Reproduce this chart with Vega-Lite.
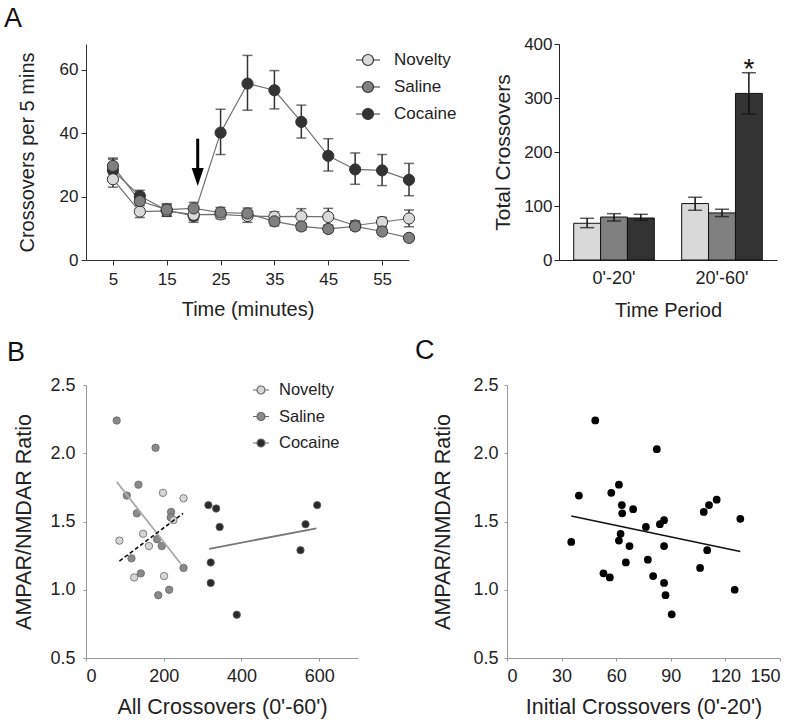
{
  "$schema": "https://vega.github.io/schema/vega-lite/v6.json",
  "padding": {"left": 4, "top": 5, "right": 5, "bottom": 5},
  "config": {
    "view": {"stroke": null},
    "font": "Liberation Sans",
    "axis": {"grid": false, "labelFont": "Liberation Sans", "titleFont": "Liberation Sans", "titleFontWeight": "normal", "labelColor": "#222", "titleColor": "#222"},
    "legend": {"labelFont": "Liberation Sans", "padding": 0}
  },
  "datasets": {
    "timecourse": [
      {"group": "Cocaine", "t": 5, "m": 28.3, "lo": 26.3, "hi": 31.8},
      {"group": "Cocaine", "t": 10, "m": 20.2, "lo": 18.5, "hi": 22.0},
      {"group": "Cocaine", "t": 15, "m": 15.7, "lo": 13.8, "hi": 17.5},
      {"group": "Cocaine", "t": 20, "m": 13.9, "lo": 11.9, "hi": 15.8},
      {"group": "Cocaine", "t": 25, "m": 40.2, "lo": 33.3, "hi": 47.6},
      {"group": "Cocaine", "t": 30, "m": 55.7, "lo": 47.3, "hi": 64.6},
      {"group": "Cocaine", "t": 35, "m": 53.6, "lo": 47.7, "hi": 59.8},
      {"group": "Cocaine", "t": 40, "m": 43.6, "lo": 38.5, "hi": 48.9},
      {"group": "Cocaine", "t": 45, "m": 32.9, "lo": 28.1, "hi": 38.3},
      {"group": "Cocaine", "t": 50, "m": 28.6, "lo": 23.9, "hi": 33.8},
      {"group": "Cocaine", "t": 55, "m": 28.3, "lo": 23.5, "hi": 33.3},
      {"group": "Cocaine", "t": 60, "m": 25.3, "lo": 20.3, "hi": 30.5},
      {"group": "Novelty", "t": 5, "m": 25.5, "lo": 23.0, "hi": 28.0},
      {"group": "Novelty", "t": 10, "m": 15.3, "lo": 13.4, "hi": 17.2},
      {"group": "Novelty", "t": 15, "m": 15.5, "lo": 13.8, "hi": 17.2},
      {"group": "Novelty", "t": 20, "m": 14.3, "lo": 12.5, "hi": 16.1},
      {"group": "Novelty", "t": 25, "m": 14.4, "lo": 13.0, "hi": 15.8},
      {"group": "Novelty", "t": 30, "m": 13.9, "lo": 11.9, "hi": 15.6},
      {"group": "Novelty", "t": 35, "m": 13.7, "lo": 12.2, "hi": 15.2},
      {"group": "Novelty", "t": 40, "m": 13.8, "lo": 11.5, "hi": 16.2},
      {"group": "Novelty", "t": 45, "m": 13.6, "lo": 11.0, "hi": 16.3},
      {"group": "Novelty", "t": 50, "m": 10.9, "lo": 9.6, "hi": 12.4},
      {"group": "Novelty", "t": 55, "m": 12.0, "lo": 10.5, "hi": 13.5},
      {"group": "Novelty", "t": 60, "m": 13.1, "lo": 10.5, "hi": 15.8},
      {"group": "Saline", "t": 5, "m": 29.7, "lo": 27.2, "hi": 32.2},
      {"group": "Saline", "t": 10, "m": 18.6, "lo": 16.2, "hi": 21.0},
      {"group": "Saline", "t": 15, "m": 15.9, "lo": 14.0, "hi": 17.8},
      {"group": "Saline", "t": 20, "m": 16.3, "lo": 14.2, "hi": 18.2},
      {"group": "Saline", "t": 25, "m": 15.0, "lo": 13.4, "hi": 16.6},
      {"group": "Saline", "t": 30, "m": 14.7, "lo": 13.0, "hi": 16.4},
      {"group": "Saline", "t": 35, "m": 12.2, "lo": 10.8, "hi": 13.7},
      {"group": "Saline", "t": 40, "m": 10.6, "lo": 9.4, "hi": 11.8},
      {"group": "Saline", "t": 45, "m": 9.8, "lo": 8.7, "hi": 10.9},
      {"group": "Saline", "t": 50, "m": 10.6, "lo": 9.5, "hi": 12.0},
      {"group": "Saline", "t": 55, "m": 9.0, "lo": 8.0, "hi": 10.0},
      {"group": "Saline", "t": 60, "m": 7.0, "lo": 6.0, "hi": 8.0}
    ],
    "arrow": [{"t": 20.75, "top": 38.3, "bot": 27.5, "head": 26.2}],
    "totals": [
      {"period": "0'-20'", "group": "Novelty", "v": 68, "lo": 59.9, "hi": 77.2, "sig": ""},
      {"period": "0'-20'", "group": "Saline", "v": 79.6, "lo": 72.2, "hi": 85.8, "sig": ""},
      {"period": "0'-20'", "group": "Cocaine", "v": 77.8, "lo": 73.5, "hi": 84.6, "sig": ""},
      {"period": "20'-60'", "group": "Novelty", "v": 104.5, "lo": 92.1, "hi": 116.2, "sig": ""},
      {"period": "20'-60'", "group": "Saline", "v": 87.2, "lo": 80.4, "hi": 94, "sig": ""},
      {"period": "20'-60'", "group": "Cocaine", "v": 308.5, "lo": 270.2, "hi": 346.8, "sig": "*"}
    ],
    "scatterB": [
      {"group": "Saline", "x": 79, "r": 2.24},
      {"group": "Saline", "x": 179, "r": 2.04},
      {"group": "Saline", "x": 135, "r": 1.77},
      {"group": "Saline", "x": 105, "r": 1.69},
      {"group": "Saline", "x": 131, "r": 1.56},
      {"group": "Saline", "x": 219, "r": 1.57},
      {"group": "Saline", "x": 218, "r": 1.53},
      {"group": "Saline", "x": 183, "r": 1.37},
      {"group": "Saline", "x": 195, "r": 1.32},
      {"group": "Saline", "x": 117, "r": 1.23},
      {"group": "Saline", "x": 141, "r": 1.12},
      {"group": "Saline", "x": 251, "r": 1.16},
      {"group": "Saline", "x": 214, "r": 1.0},
      {"group": "Saline", "x": 186, "r": 0.96},
      {"group": "Novelty", "x": 86, "r": 1.36},
      {"group": "Novelty", "x": 147, "r": 1.41},
      {"group": "Novelty", "x": 162, "r": 1.32},
      {"group": "Novelty", "x": 198, "r": 1.71},
      {"group": "Novelty", "x": 251, "r": 1.67},
      {"group": "Novelty", "x": 225, "r": 1.51},
      {"group": "Novelty", "x": 124, "r": 1.09},
      {"group": "Novelty", "x": 201, "r": 1.1},
      {"group": "Cocaine", "x": 315, "r": 1.62},
      {"group": "Cocaine", "x": 335, "r": 1.595},
      {"group": "Cocaine", "x": 344, "r": 1.46},
      {"group": "Cocaine", "x": 321, "r": 1.2},
      {"group": "Cocaine", "x": 321, "r": 1.05},
      {"group": "Cocaine", "x": 388, "r": 0.817},
      {"group": "Cocaine", "x": 552, "r": 1.29},
      {"group": "Cocaine", "x": 565, "r": 1.48},
      {"group": "Cocaine", "x": 595, "r": 1.62}
    ],
    "fitB": [
      {"group": "Novelty", "x": 86, "r": 1.21},
      {"group": "Novelty", "x": 250, "r": 1.56},
      {"group": "Saline", "x": 79, "r": 1.79},
      {"group": "Saline", "x": 244, "r": 1.19},
      {"group": "Cocaine", "x": 317, "r": 1.30},
      {"group": "Cocaine", "x": 593, "r": 1.45}
    ],
    "scatterC": [
      {"x": 48.5, "r": 2.24}, {"x": 82.3, "r": 2.03}, {"x": 39.5, "r": 1.69}, {"x": 57.3, "r": 1.71},
      {"x": 61.5, "r": 1.77}, {"x": 63.1, "r": 1.62}, {"x": 63.3, "r": 1.56}, {"x": 69.3, "r": 1.59},
      {"x": 35.3, "r": 1.35}, {"x": 62.4, "r": 1.41}, {"x": 61.5, "r": 1.36}, {"x": 76.3, "r": 1.46},
      {"x": 84.0, "r": 1.48}, {"x": 86.3, "r": 1.51}, {"x": 67.3, "r": 1.32}, {"x": 86.3, "r": 1.32},
      {"x": 77.4, "r": 1.22}, {"x": 65.3, "r": 1.2}, {"x": 53.0, "r": 1.12}, {"x": 56.5, "r": 1.09},
      {"x": 80.3, "r": 1.1}, {"x": 86.3, "r": 1.05}, {"x": 87.1, "r": 0.96}, {"x": 90.5, "r": 0.82},
      {"x": 108.1, "r": 1.57}, {"x": 111.0, "r": 1.62}, {"x": 115.2, "r": 1.66}, {"x": 128.2, "r": 1.52},
      {"x": 110.0, "r": 1.29}, {"x": 106.1, "r": 1.16}, {"x": 125.1, "r": 1.0}
    ],
    "fitC": [{"x": 35.3, "r": 1.54}, {"x": 128.2, "r": 1.28}]
  },
  "resolve": {"scale": {"fill": "independent"}, "legend": {"fill": "independent"}},
  "spacing": 17,
  "vconcat": [
    {
      "bounds": "flush",
      "spacing": 150,
      "resolve": {"scale": {"fill": "independent"}, "legend": {"fill": "independent"}},
      "hconcat": [
        {
          "width": 323,
          "height": 216,
          "title": {"text": "A", "anchor": "start", "frame": "group", "orient": "top", "dx": -82, "offset": -10, "fontSize": 27, "fontWeight": "normal", "font": "Liberation Sans", "color": "#111", "baseline": "alphabetic"},
          "layer": [
            {
              "data": {"name": "timecourse"},
              "mark": {"type": "rule", "color": "#333", "strokeWidth": 1.5},
              "encoding": {
                "x": {"field": "t", "type": "quantitative", "scale": {"domain": [0, 60], "nice": false},
                  "axis": {"values": [5, 15, 25, 35, 45, 55], "title": "Time (minutes)", "titleFontSize": 20, "labelFontSize": 17, "domainColor": "#333", "tickColor": "#333", "tickSize": 5, "labelPadding": 6, "titlePadding": 12}},
                "y": {"field": "lo", "type": "quantitative", "scale": {"domain": [0, 68.2], "nice": false},
                  "axis": {"values": [0, 10, 20, 30, 40, 50, 60], "title": "Crossovers per 5 mins", "titleFontSize": 20, "labelFontSize": 17, "domainColor": "#333", "tickColor": "#333", "tickSize": 5, "labelPadding": 3, "titlePadding": 22}},
                "y2": {"field": "hi"}
              }
            },
            {
              "data": {"name": "timecourse"},
              "mark": {"type": "tick", "orient": "horizontal", "color": "#333", "size": 10, "thickness": 1.5},
              "encoding": {"x": {"field": "t", "type": "quantitative"}, "y": {"field": "lo", "type": "quantitative"}}
            },
            {
              "data": {"name": "timecourse"},
              "mark": {"type": "tick", "orient": "horizontal", "color": "#333", "size": 10, "thickness": 1.5},
              "encoding": {"x": {"field": "t", "type": "quantitative"}, "y": {"field": "hi", "type": "quantitative"}}
            },
            {
              "data": {"name": "timecourse"},
              "mark": {"type": "line", "color": "#707070", "strokeWidth": 1.2},
              "encoding": {"x": {"field": "t", "type": "quantitative"}, "y": {"field": "m", "type": "quantitative"}, "detail": {"field": "group"}}
            },
            {
              "data": {"name": "timecourse"},
              "mark": {"type": "circle", "size": 125, "opacity": 1, "stroke": "#333", "strokeWidth": 1},
              "encoding": {
                "x": {"field": "t", "type": "quantitative"},
                "y": {"field": "m", "type": "quantitative"},
                "fill": {"field": "group", "type": "nominal",
                  "scale": {"domain": ["Novelty", "Saline", "Cocaine"], "range": ["#d9d9d9", "#808080", "#333333"]},
                  "legend": {"orient": "none", "legendX": 269, "legendY": 3, "title": null, "padding": 0,
                    "symbolType": "M-1,0L-0.46,0M0.46,0L1,0M-0.46,0A0.46,0.46,0,1,1,0.46,0A0.46,0.46,0,1,1,-0.46,0Z",
                    "symbolSize": 576, "symbolStrokeWidth": 1.2, "labelFontSize": 17, "labelColor": "#222", "labelOffset": 13, "rowPadding": 6,
                    "encode": {"symbols": {"update": {"stroke": {"value": "#555"}, "opacity": {"value": 1}}}}}
                }
              }
            },
            {
              "data": {"name": "arrow"},
              "mark": {"type": "rule", "color": "#000", "strokeWidth": 3},
              "encoding": {"x": {"field": "t", "type": "quantitative"}, "y": {"field": "top", "type": "quantitative"}, "y2": {"field": "bot"}}
            },
            {
              "data": {"name": "arrow"},
              "mark": {"type": "point", "shape": "M-0.67,-1L0.67,-1L0,1Z", "size": 324, "filled": true, "color": "#000", "opacity": 1},
              "encoding": {"x": {"field": "t", "type": "quantitative"}, "y": {"field": "head", "type": "quantitative"}}
            }
          ]
        },
        {
          "width": 218,
          "height": 216,
          "data": {"name": "totals"},
          "encoding": {
            "x": {"field": "period", "type": "nominal", "sort": null,
              "scale": {"paddingInner": 0.2535, "paddingOuter": 0.136},
              "axis": {"title": "Time Period", "titleFontSize": 20, "labelFontSize": 18, "labelAngle": 0, "ticks": false, "domainColor": "#222", "labelPadding": 9, "titlePadding": 13}},
            "xOffset": {"field": "group", "type": "nominal", "sort": ["Novelty", "Saline", "Cocaine"], "scale": {"paddingInner": 0, "paddingOuter": 0}}
          },
          "layer": [
            {
              "mark": {"type": "bar", "stroke": "#111", "strokeWidth": 1},
              "encoding": {
                "y": {"field": "v", "type": "quantitative", "scale": {"domain": [0, 400], "nice": false},
                  "axis": {"values": [0, 100, 200, 300, 400], "title": "Total Crossovers", "titleFontSize": 21, "labelFontSize": 17, "domainColor": "#222", "tickColor": "#222", "tickSize": 5, "labelPadding": 2, "titlePadding": 10}},
                "fill": {"field": "group", "type": "nominal", "scale": {"domain": ["Novelty", "Saline", "Cocaine"], "range": ["#d9d9d9", "#808080", "#333333"]}, "legend": null}
              }
            },
            {
              "mark": {"type": "rule", "color": "#111", "strokeWidth": 1.5},
              "encoding": {"y": {"field": "lo", "type": "quantitative"}, "y2": {"field": "hi"}}
            },
            {
              "mark": {"type": "tick", "orient": "horizontal", "color": "#111", "size": 14, "thickness": 1.5},
              "encoding": {"y": {"field": "lo", "type": "quantitative"}}
            },
            {
              "mark": {"type": "tick", "orient": "horizontal", "color": "#111", "size": 14, "thickness": 1.5},
              "encoding": {"y": {"field": "hi", "type": "quantitative"}}
            },
            {
              "mark": {"type": "text", "fontSize": 28, "baseline": "alphabetic", "dy": 5, "color": "#111", "font": "Liberation Sans"},
              "encoding": {"y": {"field": "hi", "type": "quantitative"}, "text": {"field": "sig"}}
            }
          ]
        }
      ]
    },
    {
      "bounds": "flush",
      "spacing": 149,
      "resolve": {"scale": {"fill": "independent"}, "legend": {"fill": "independent"}},
      "hconcat": [
        {
          "width": 272,
          "height": 273,
          "title": {"text": "B", "anchor": "start", "frame": "group", "orient": "top", "dx": -79, "offset": -12, "fontSize": 27, "fontWeight": "normal", "font": "Liberation Sans", "color": "#111", "baseline": "alphabetic"},
          "layer": [
            {
              "data": {"name": "scatterB"},
              "mark": {"type": "circle", "size": 55, "opacity": 1, "stroke": "#666", "strokeWidth": 0.8},
              "encoding": {
                "x": {"field": "x", "type": "quantitative", "scale": {"domain": [0, 700], "nice": false},
                  "axis": {"values": [0, 200, 400, 600], "title": "All Crossovers (0'-60')", "titleFontSize": 21.5, "labelFontSize": 18, "domainColor": "#999", "tickColor": "#999", "tickSize": 3, "labelPadding": 6, "titlePadding": 11}},
                "y": {"field": "r", "type": "quantitative", "scale": {"domain": [0.5, 2.5], "nice": false},
                  "axis": {"values": [0.5, 1, 1.5, 2, 2.5], "format": ".1f", "title": "AMPAR/NMDAR Ratio", "titleFontSize": 21.5, "labelFontSize": 18, "domainColor": "#999", "tickColor": "#999", "tickSize": 3, "labelPadding": 8, "titlePadding": 14}},
                "fill": {"field": "group", "type": "nominal",
                  "scale": {"domain": ["Novelty", "Saline", "Cocaine"], "range": ["#d6d6d6", "#8a8a8a", "#2a2a2a"]},
                  "legend": {"orient": "none", "legendX": 166, "legendY": -4, "title": null, "padding": 0,
                    "symbolType": "M-1,0L-0.5,0M0.5,0L1,0M-0.5,0A0.5,0.5,0,1,1,0.5,0A0.5,0.5,0,1,1,-0.5,0Z",
                    "symbolSize": 256, "symbolStrokeWidth": 1.2, "labelFontSize": 16.5, "labelColor": "#222", "labelOffset": 9, "rowPadding": 8.5,
                    "encode": {"symbols": {"update": {
                      "stroke": {"signal": "datum.value === 'Novelty' ? '#111' : datum.value === 'Saline' ? '#888' : '#222'"},
                      "shape": {"signal": "datum.value === 'Novelty' ? 'M-1,0L-0.8,0M-0.68,0L-0.5,0M0.5,0L0.68,0M0.8,0L1,0M-0.5,0A0.5,0.5,0,1,1,0.5,0A0.5,0.5,0,1,1,-0.5,0Z' : 'M-1,0L-0.5,0M0.5,0L1,0M-0.5,0A0.5,0.5,0,1,1,0.5,0A0.5,0.5,0,1,1,-0.5,0Z'"},
                      "opacity": {"value": 1}}}}}
                }
              }
            },
            {
              "data": {"name": "fitB"},
              "transform": [{"filter": "datum.group === 'Saline'"}],
              "mark": {"type": "line", "color": "#aaaaaa", "strokeWidth": 1.8},
              "encoding": {"x": {"field": "x", "type": "quantitative"}, "y": {"field": "r", "type": "quantitative"}}
            },
            {
              "data": {"name": "fitB"},
              "transform": [{"filter": "datum.group === 'Cocaine'"}],
              "mark": {"type": "line", "color": "#777777", "strokeWidth": 1.8},
              "encoding": {"x": {"field": "x", "type": "quantitative"}, "y": {"field": "r", "type": "quantitative"}}
            },
            {
              "data": {"name": "fitB"},
              "transform": [{"filter": "datum.group === 'Novelty'"}],
              "mark": {"type": "line", "color": "#111111", "strokeWidth": 1.6, "strokeDash": [4, 2.5]},
              "encoding": {"x": {"field": "x", "type": "quantitative"}, "y": {"field": "r", "type": "quantitative"}}
            }
          ]
        },
        {
          "width": 273,
          "height": 273,
          "title": {"text": "C", "anchor": "start", "frame": "group", "orient": "top", "dx": -92, "offset": -10, "fontSize": 27, "fontWeight": "normal", "font": "Liberation Sans", "color": "#111", "baseline": "alphabetic"},
          "layer": [
            {
              "data": {"name": "scatterC"},
              "mark": {"type": "circle", "size": 60, "opacity": 1, "color": "#000"},
              "encoding": {
                "x": {"field": "x", "type": "quantitative", "scale": {"domain": [0, 150], "nice": false},
                  "axis": {"values": [0, 30, 60, 90, 120, 150], "title": "Initial Crossovers (0'-20')", "titleFontSize": 21.5, "labelFontSize": 18, "domainColor": "#999", "tickColor": "#999", "tickSize": 3, "labelPadding": 6, "titlePadding": 11}},
                "y": {"field": "r", "type": "quantitative", "scale": {"domain": [0.5, 2.5], "nice": false},
                  "axis": {"values": [0.5, 1, 1.5, 2, 2.5], "format": ".1f", "title": "AMPAR/NMDAR Ratio", "titleFontSize": 21.5, "labelFontSize": 18, "domainColor": "#999", "tickColor": "#999", "tickSize": 3, "labelPadding": 6, "titlePadding": 18}}
              }
            },
            {
              "data": {"name": "fitC"},
              "mark": {"type": "line", "color": "#111", "strokeWidth": 1.5},
              "encoding": {"x": {"field": "x", "type": "quantitative"}, "y": {"field": "r", "type": "quantitative"}}
            }
          ]
        }
      ]
    }
  ]
}
